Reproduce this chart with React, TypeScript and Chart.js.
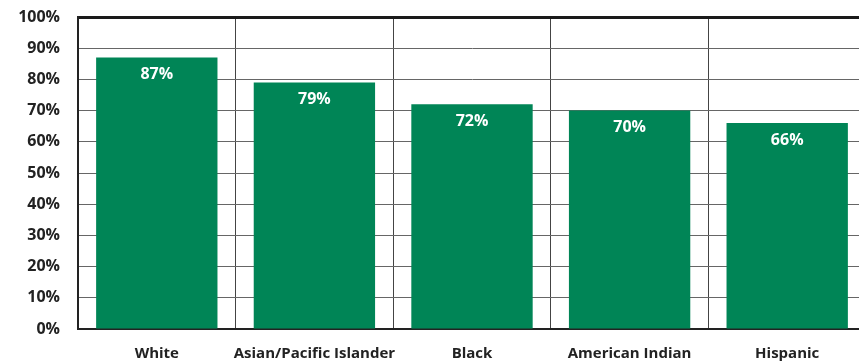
import React, { useEffect, useRef } from "react";
import { Chart, registerables } from "chart.js";

Chart.register(...registerables);

const categories = ["White", "Asian/Pacific Islander", "Black", "American Indian", "Hispanic"];
const values = [87, 79, 72, 70, 66];
const yTicks = [0, 10, 20, 30, 40, 50, 60, 70, 80, 90, 100];

const FONT = "'Open Sans', 'Liberation Sans', sans-serif";

const labelPlugin = {
  id: "barLabels",
  afterDatasetsDraw(chart: any) {
    const ctx = chart.ctx;
    const meta = chart.getDatasetMeta(0);
    ctx.save();
    ctx.fillStyle = "#ffffff";
    ctx.font = `bold 16px ${FONT}`;
    ctx.textAlign = "center";
    ctx.textBaseline = "middle";
    meta.data.forEach((bar: any, i: number) => {
      ctx.fillText(values[i] + "%", bar.x, bar.y + 17);
    });
    ctx.restore();
  },
};

export default function App() {
  const ref = useRef<HTMLCanvasElement>(null);
  useEffect(() => {
    if (!ref.current) return;
    const chart = new Chart(ref.current, {
      type: "bar",
      data: {
        labels: categories,
        datasets: [
          {
            data: values,
            backgroundColor: "#008556",
            barPercentage: 0.77,
            categoryPercentage: 1,
          },
        ],
      },
      options: {
        responsive: false,
        animation: false,
        layout: { padding: { top: 17, right: 14, left: 0, bottom: 0 } },
        plugins: { legend: { display: false }, tooltip: { enabled: false } },
        scales: {
          x: {
            grid: { color: "#444", lineWidth: 1, drawTicks: false, offset: true },
            border: { color: "#222", width: 2 },
            ticks: {
              color: "#222",
              font: { family: FONT, weight: "bold", size: 15 },
              padding: 16,
              maxRotation: 0,
              autoSkip: false,
            },
            afterFit(scale: any) {
              scale.height = 34;
              scale.paddingLeft = 0;
              scale.paddingRight = 0;
            },
          },
          y: {
            min: 0,
            max: 100,
            afterBuildTicks(scale: any) {
              scale.ticks = yTicks.map((v) => ({ value: v }));
            },
            grid: {
              drawTicks: false,
              color: (c: any) => (c.tick && c.tick.value === 100 ? "#1a1a1a" : "#666"),
              lineWidth: (c: any) => (c.tick && c.tick.value === 100 ? 3 : 1),
            },
            border: { color: "#222", width: 2 },
            ticks: {
              color: "#222",
              font: { family: FONT, weight: "bold", size: 16 },
              padding: 18,
              callback: (v: any) => v + "%",
            },
            afterFit(scale: any) {
              scale.width = 78;
              scale.paddingTop = 0;
              scale.paddingBottom = 0;
            },
          },
        },
      },
      plugins: [labelPlugin],
    });
    return () => chart.destroy();
  }, []);
  return (
    <div
      style={{
        position: "fixed",
        top: 0,
        left: 0,
        width: 859,
        height: 363,
        overflow: "hidden",
        background: "#fff",
      }}
    >
      <canvas ref={ref} width={880} height={363} style={{ width: 880, height: 363, display: "block" }} />
    </div>
  );
}
